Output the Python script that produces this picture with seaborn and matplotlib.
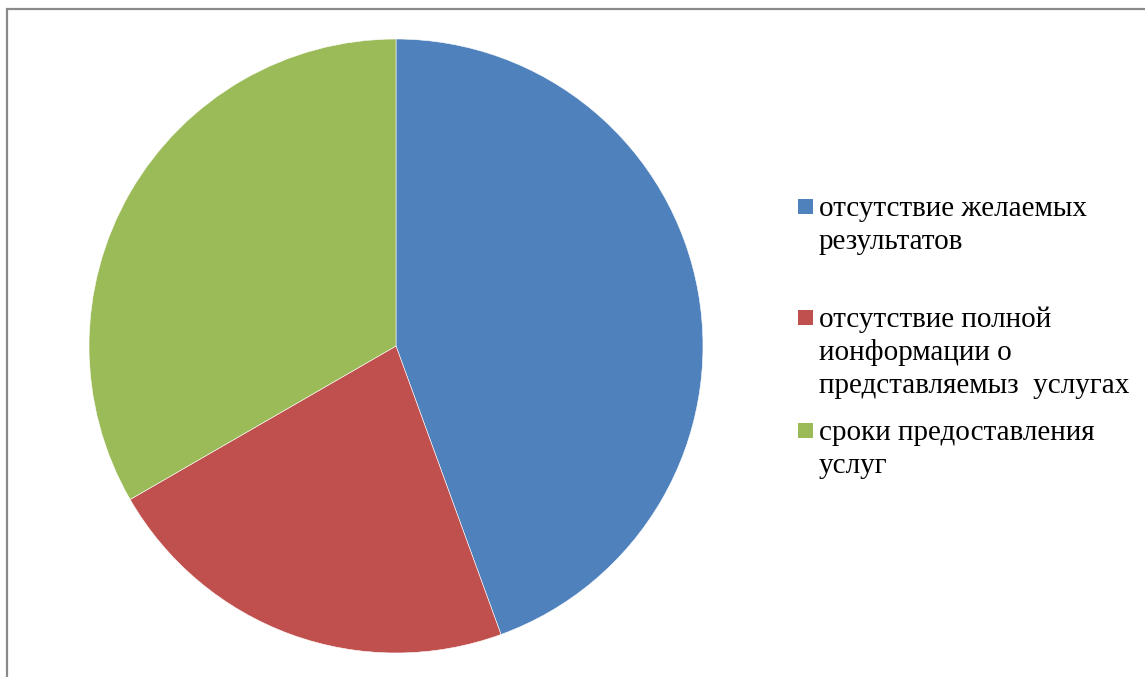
import matplotlib
matplotlib.use("Agg")
import matplotlib.pyplot as plt
from matplotlib.patches import Rectangle
import seaborn as sns

categories = [
    "отсутствие желаемых\nрезультатов",
    "отсутствие полной\nионформации о\nпредставляемыз  услугах",
    "сроки предоставления\nуслуг",
]
values = [40, 20, 30]
colors = ["#4F81BD", "#C0504D", "#9BBB59"]

sns.set_theme(style="white")
plt.rcParams["font.family"] = ["Liberation Serif", "DejaVu Serif"]

W, H = 1145, 677
fig = plt.figure(figsize=(W / 100, H / 100), dpi=100)
fig.patch.set_facecolor("white")

# pie placement (pixels from top-left)
cx, cy, r = 396, 346, 307
ax = fig.add_axes([(cx - r) / W, (H - cy - r) / H, 2 * r / W, 2 * r / H])
ax.pie(values, colors=colors, startangle=90, counterclock=False,
       wedgeprops=dict(edgecolor="white", linewidth=0.4))
ax.set_xlim(-1, 1)
ax.set_ylim(-1, 1)
ax.set_aspect("equal")
ax.axis("off")

# outer border
fig.patches.append(Rectangle((7 / W, -0.1), 1.2, (H - 9) / H + 0.1,
                             transform=fig.transFigure, fill=False,
                             edgecolor="#8a8a8a", linewidth=1.6))

# legend (manual layout)
first_line_y = [206, 317, 430]
line_h = 33
for cat, col, y0 in zip(categories, colors, first_line_y):
    fig.patches.append(Rectangle((798 / W, (H - y0 - 8) / H), 15 / W, 15 / H,
                                 transform=fig.transFigure, facecolor=col,
                                 edgecolor="none"))
    for i, line in enumerate(cat.split("\n")):
        fig.text(819 / W, (H - (y0 + i * line_h)) / H, line,
                 fontsize=21, va="center_baseline", ha="left", color="black")

fig.savefig("out.png", dpi=100, facecolor="white")
